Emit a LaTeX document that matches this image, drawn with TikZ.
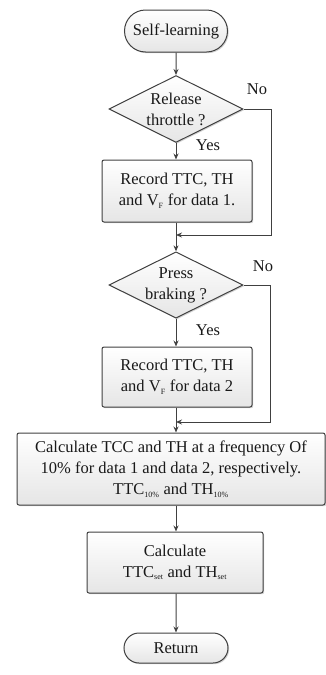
\documentclass[tikz,border=0pt]{standalone}
\usepackage{fontspec}
\setmainfont{Liberation Serif}
\usetikzlibrary{shapes.geometric,shapes.misc,arrows.meta,shadows}
\newcommand{\tinysub}[1]{\textsubscript{\fontsize{8}{8}\selectfont #1}}
\begin{document}
\begin{tikzpicture}[x=1pt,y=1pt,
  every node/.style={font=\fontsize{16.5}{21}\selectfont, text=black!90},
  base/.style={draw=black!75, line width=1pt, align=center, inner sep=0pt,
     top color=white, bottom color=black!10,
     drop shadow={shadow xshift=1.2pt, shadow yshift=-1.2pt, fill=black!35, opacity=0.5}},
  term/.style={base, rounded rectangle},
  procbox/.style={base, rectangle, rounded corners=2pt},
  decision/.style={base, diamond, shape aspect=2},
  conn/.style={draw=black!75, line width=1pt, -{Stealth[length=6pt,width=5pt]}},
  lbl/.style={inner sep=0pt}
]
\useasboundingbox (0,0) rectangle (326,-675);
\node[term, minimum width=103, minimum height=42] (start) at (176,-31) {Self-learning};
\node[decision, minimum width=134, minimum height=67] (d1) at (176,-109) {Release\\throttle ?};
\node[procbox, minimum width=150, minimum height=62] (b1) at (177,-191) {Record TTC, TH\\and V\tinysub{F} for data 1.};
\node[decision, minimum width=134, minimum height=64] (d2) at (176,-285) {Press\\braking ?};
\node[procbox, minimum width=150, minimum height=60] (b2) at (177,-377) {Record TTC, TH\\and V\tinysub{F} for data 2};
\node[procbox, minimum width=308, minimum height=72] (b3) at (171,-469) {Calculate TCC and TH at a frequency Of\\10\% for data 1 and data 2, respectively.\\TTC\tinysub{10\%} and TH\tinysub{10\%}};
\node[procbox, minimum width=176, minimum height=61] (b4) at (175,-562.5) {Calculate\\TTC\tinysub{set} and TH\tinysub{set}};
\node[term, minimum width=104, minimum height=30] (ret) at (176,-648) {Return};

\coordinate (m1) at (176,-235);
\coordinate (m2) at (176,-422);
\coordinate (r1) at (271,-109);
\coordinate (r2) at (270,-285);

\node[lbl] (no1) at (257,-89) {No};
\node[lbl] (no2) at (263,-266) {No};
\node[lbl] (yes1) at (208,-145) {Yes};
\node[lbl] (yes2) at (208,-330) {Yes};

\draw[conn] (start) -- (d1);
\draw[conn] (d1) -- (b1.north -| d1.south);
\draw[conn] (b1.south -| d1.south) -- (d2);
\draw[conn] (d2) -- (b2.north -| d2.south);
\draw[conn] (b2.south -| d2.south) -- (b3.north -| d2.south);
\draw[conn] (b3.south -| d2.south) -- (b4.north -| d2.south);
\draw[conn] (b4.south -| d2.south) -- (ret);
\draw[conn] (d1.east) -- (r1) |- (m1);
\draw[conn] (d2.east) -- (r2) |- (m2);
\end{tikzpicture}
\end{document}
